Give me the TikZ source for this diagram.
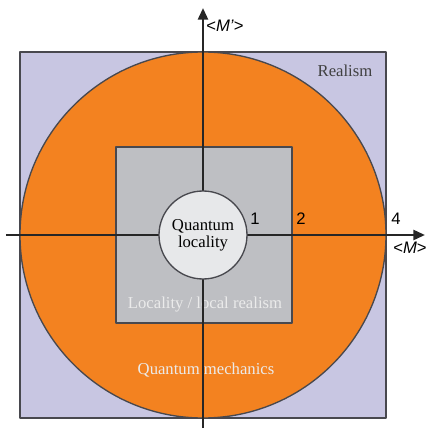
\documentclass[tikz,border=0pt]{standalone}
\usepackage{fontspec}
\setmainfont{Liberation Serif}
\setsansfont{Liberation Sans}
\usetikzlibrary{arrows.meta}
\definecolor{realismcolor}{RGB}{200,198,226}
\definecolor{qmcolor}{RGB}{243,130,32}
\definecolor{localcolor}{RGB}{190,191,195}
\definecolor{qlcolor}{RGB}{231,232,234}
\definecolor{edgecolor}{RGB}{72,72,78}
\tikzset{
    regionpic/.style={
        x=0.6pt, y=0.6pt,
        >={Triangle[length=7pt,width=6pt]},
        line join = round,
    },
    region/.style={draw=edgecolor, line width=0.8pt},
    axisline/.style={->, line width=1.5pt, draw=black!85},
    ticklabel/.style={font=\sffamily, inner sep=1pt},
    regionlabel/.style={font=\rmfamily, inner sep=1pt, align=center}
}
\newcommand{\axislabel}[1]{\sffamily<\textit{#1}>}
\begin{document}
\begin{tikzpicture}
            [regionpic]
            \useasboundingbox (-203,-195) rectangle (224,235);
            \filldraw[region, fill=realismcolor] (-183,-183) rectangle (183,183);
            \filldraw[region, fill=qmcolor] (0,0) circle (183);
            \filldraw[region, fill=localcolor] (-87,-88) rectangle (89,88);
            % axes
            \coordinate (xstart) at (-197,0);
            \coordinate (xend) at (222,0);
            \coordinate (ystart) at (0,-193);
            \coordinate (yend) at (0,227);
            \node[regionlabel, text=white!92!black] (loc) at (2,-70) {Locality / local realism};
            \node[regionlabel, text=white!92!black] (qm) at (3,-135) {Quantum mechanics};
            \draw[axisline] (xstart) -- (xend);
            \draw[axisline] (ystart) -- (yend);
            \node[circle, minimum size=88*0.6pt, draw=edgecolor, line width=0.8pt, fill=qlcolor,
                  regionlabel, inner sep=0pt] (ql) at (0,0) {Quantum\\[-2pt]locality};
            \node[regionlabel, text=black!75] (real) at (142,164) {Realism};
            \node[ticklabel] (one) at (52,16) {1};
            \node[ticklabel] (two) at (98,16) {2};
            \node[ticklabel] (four) at (193,16) {4};
            \node[ticklabel] (mx) at (207,-13) {\axislabel{M}};
            \node[ticklabel] (my) at (22,209) {\axislabel{M'}};
        \end{tikzpicture}
\end{document}
